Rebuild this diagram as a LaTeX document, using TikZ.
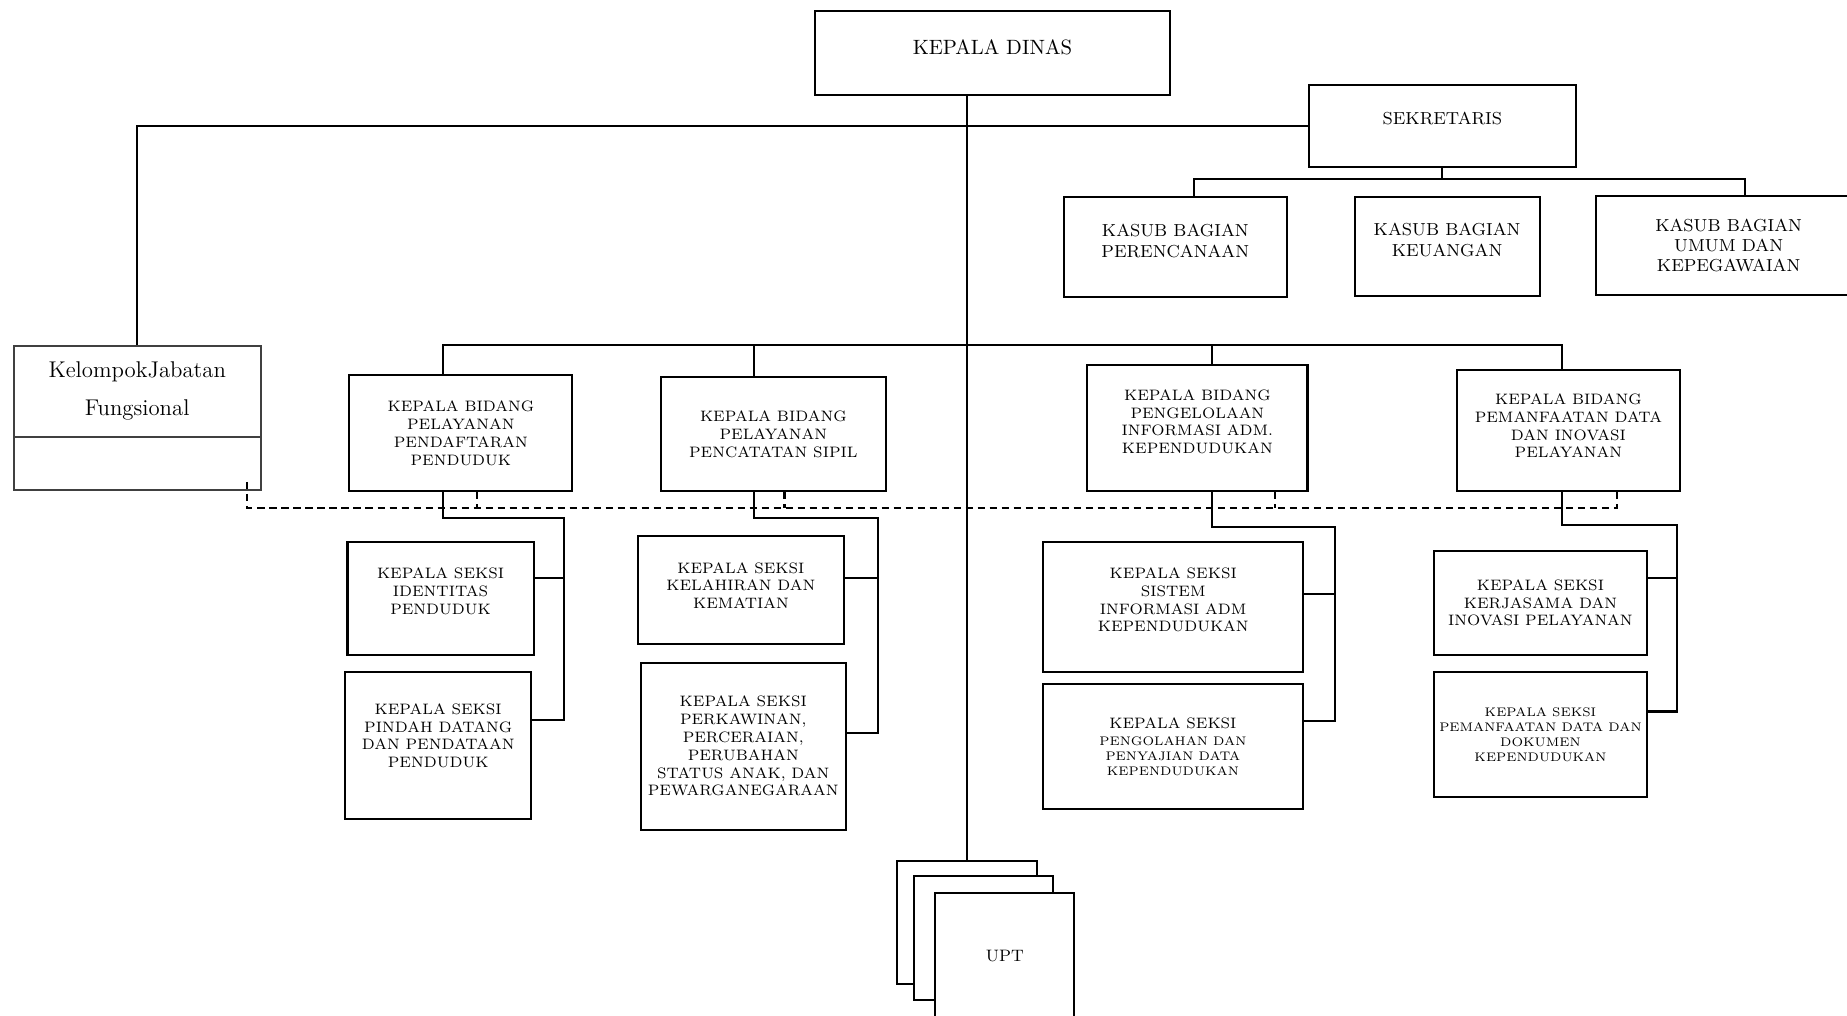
\documentclass[tikz,border=0pt]{standalone}
\usepackage{tikz}
\usetikzlibrary{positioning,calc}

\newcommand{\fkadis}{\fontsize{10}{12}\selectfont}
\newcommand{\fkasub}{\fontsize{8.4}{9.8}\selectfont}
\newcommand{\fsedang}{\fontsize{7.3}{8.6}\selectfont}
\newcommand{\fkecil}{\fontsize{6}{7.3}\selectfont}
\newcommand{\fbesar}{\fontsize{11}{18.4}\selectfont}
\newcommand{\fupt}{\fontsize{8}{9.6}\selectfont}

\begin{document}
\begin{tikzpicture}[
    x=0.02cm, y=-0.02cm,
    box/.style={rectangle, draw, line width=1pt, align=center, inner sep=1pt, font=\fsedang},
    naik/.style={text depth=#1},
    garis/.style={line width=1pt},
    dashline/.style={line width=1pt, dash pattern=on 3.4pt off 2.4pt},
]

\useasboundingbox (0,0) rectangle (1568,862);

% Kepala Dinas dan Sekretaris
\node[box, naik=0.2cm, font=\fkadis, minimum width=6.02cm, minimum height=1.42cm] (kadis) at (842.5,45) {KEPALA DINAS};
\node[box, naik=0.28cm, font=\fkasub, minimum width=4.54cm, minimum height=1.4cm] (sekretaris) at (1224.5,107) {SEKRETARIS};

% Kasub Bagian
\node[box, naik=0.21cm, font=\fkasub, minimum width=3.79cm, minimum height=1.69cm] (kasub_rencana) at (997.75,209.75) {KASUB BAGIAN\\PERENCANAAN};
\node[box, naik=0.22cm, font=\fkasub, minimum width=3.14cm, minimum height=1.68cm] (kasub_keu) at (1228.5,209) {KASUB BAGIAN\\KEUANGAN};
\node[box, font=\fkasub, minimum width=4.5cm, minimum height=1.68cm] (kasub_umum) at (1467.5,208.5) {KASUB BAGIAN\\UMUM DAN\\KEPEGAWAIAN};

% Kelompok Jabatan Fungsional
\node[box, draw=black!75, font=\fbesar, minimum width=4.2cm, minimum height=1.55cm] (kel_jab) at (116.5,332.25) {KelompokJabatan\\Fungsional};
\node[box, draw=black!75, minimum width=4.2cm, minimum height=0.9cm, below=-1pt of kel_jab] (kel_bawah) {};

% Kepala Bidang
\node[box, minimum width=3.79cm, minimum height=1.97cm] (bid_daftar) at (391.25,367.75) {KEPALA BIDANG\\PELAYANAN\\PENDAFTARAN\\PENDUDUK};
\node[box, minimum width=3.82cm, minimum height=1.94cm] (bid_sipil) at (656.5,368.5) {KEPALA BIDANG\\PELAYANAN\\PENCATATAN SIPIL};
\node[box, naik=0.22cm, minimum width=3.74cm, minimum height=2.14cm] (bid_info) at (1016.5,363.5) {KEPALA BIDANG\\PENGELOLAAN\\INFORMASI ADM.\\KEPENDUDUKAN};
\node[box, naik=0.16cm, minimum width=3.78cm, minimum height=2.06cm] (bid_data) at (1331.5,365.5) {KEPALA BIDANG\\PEMANFAATAN DATA\\DAN INOVASI\\PELAYANAN};

% Kepala Seksi
\node[box, naik=0.24cm, minimum width=3.16cm, minimum height=1.92cm] (sie_identitas) at (374,508) {KEPALA SEKSI\\IDENTITAS\\PENDUDUK};
\node[box, naik=0.33cm, minimum width=3.16cm, minimum height=2.49cm] (sie_pindah) at (372,632.75) {KEPALA SEKSI\\PINDAH DATANG\\DAN PENDATAAN\\PENDUDUK};
\node[box, naik=0.16cm, minimum width=3.5cm, minimum height=1.84cm] (sie_lahir) at (629,501) {KEPALA SEKSI\\KELAHIRAN DAN\\KEMATIAN};
\node[box, minimum width=3.48cm, minimum height=2.84cm] (sie_kawin) at (631,633.5) {KEPALA SEKSI\\PERKAWINAN,\\PERCERAIAN,\\PERUBAHAN\\STATUS ANAK, DAN\\PEWARGANEGARAAN};
\node[box, naik=0.24cm, minimum width=4.42cm, minimum height=2.21cm] (sie_sistem) at (996,515.25) {KEPALA SEKSI\\SISTEM\\INFORMASI ADM\\KEPENDUDUKAN};
\node[box, font=\fkecil, minimum width=4.41cm, minimum height=2.12cm] (sie_olah) at (995.75,634) {\fsedang KEPALA SEKSI\\[1pt]PENGOLAHAN DAN\\PENYAJIAN DATA\\KEPENDUDUKAN};
\node[box, minimum width=3.61cm, minimum height=1.77cm] (sie_kerja) at (1307.75,511.75) {KEPALA SEKSI\\KERJASAMA DAN\\INOVASI PELAYANAN};
\node[box, font=\fkecil, minimum width=3.61cm, minimum height=2.13cm] (sie_manfaat) at (1307.75,623.75) {KEPALA SEKSI\\PEMANFAATAN DATA DAN\\DOKUMEN\\KEPENDUDUKAN};

% UPT
\node[box, fill=white, minimum width=2.37cm, minimum height=2.08cm] (upt_a) at (820.75,783) {};
\node[box, fill=white, minimum width=2.36cm, minimum height=2.1cm] (upt_b) at (835,796.5) {};
\node[box, fill=white, naik=0.1cm, font=\fupt, minimum width=2.36cm, minimum height=2.24cm] (upt_c) at (853,814) {UPT};

% Garis utama
\draw[garis] (kadis.south -| upt_a.north) -- (upt_a.north);
\draw[garis] (sekretaris.west) -| (kel_jab.north);

% Sekretaris ke Kasub
\coordinate (kbus_l) at (1014,152);
\coordinate (kbus_r) at (1481,152);
\draw[garis] (sekretaris.south) -- (sekretaris.south |- kbus_l);
\draw[garis] (kasub_rencana.north -| kbus_l) -- (kbus_l) -- (kbus_r) -- (kasub_umum.north -| kbus_r);

% Bidang
\coordinate (bus_l) at (376,293);
\coordinate (bus_sipil) at (640,293);
\coordinate (bus_info) at (1029,293);
\coordinate (bus_r) at (1326,293);
\draw[garis] (bid_daftar.north -| bus_l) -- (bus_l) -- (bus_r) -- (bid_data.north -| bus_r);
\foreach \nm in {sipil, info}
    \draw[garis] (bus_\nm) -- (bid_\nm.north -| bus_\nm);

% Bidang ke Seksi
\foreach \bid/\ka/\kb/\xb/\xg/\yt/\ya/\yb in {
    bid_daftar/sie_identitas/sie_pindah/376/479/440/491/611,
    bid_sipil/sie_lahir/sie_kawin/640/745/440/491/622,
    bid_info/sie_sistem/sie_olah/1029/1133/447/504/612,
    bid_data/sie_kerja/sie_manfaat/1326/1424/446/491/604}
{
    \draw[garis] (\bid.south -| \xb,0) |- (\xg,\yt) -- (\xg,\yb) -- (\kb.east |- 0,\yb);
    \draw[garis] (\xg,\ya) -- (\ka.east |- 0,\ya);
}

% Garis koordinasi
\coordinate (dl_start) at (210,409);
\coordinate (dl_end) at (1373,431);
\draw[dashline] (dl_start) |- (dl_end) -- (bid_data.south -| dl_end);
\foreach \bid/\dx in {bid_daftar/405, bid_sipil/666, bid_info/1082}
    \draw[dashline] (\bid.south -| \dx,0) -- (dl_end -| \dx,0);

\end{tikzpicture}
\end{document}
